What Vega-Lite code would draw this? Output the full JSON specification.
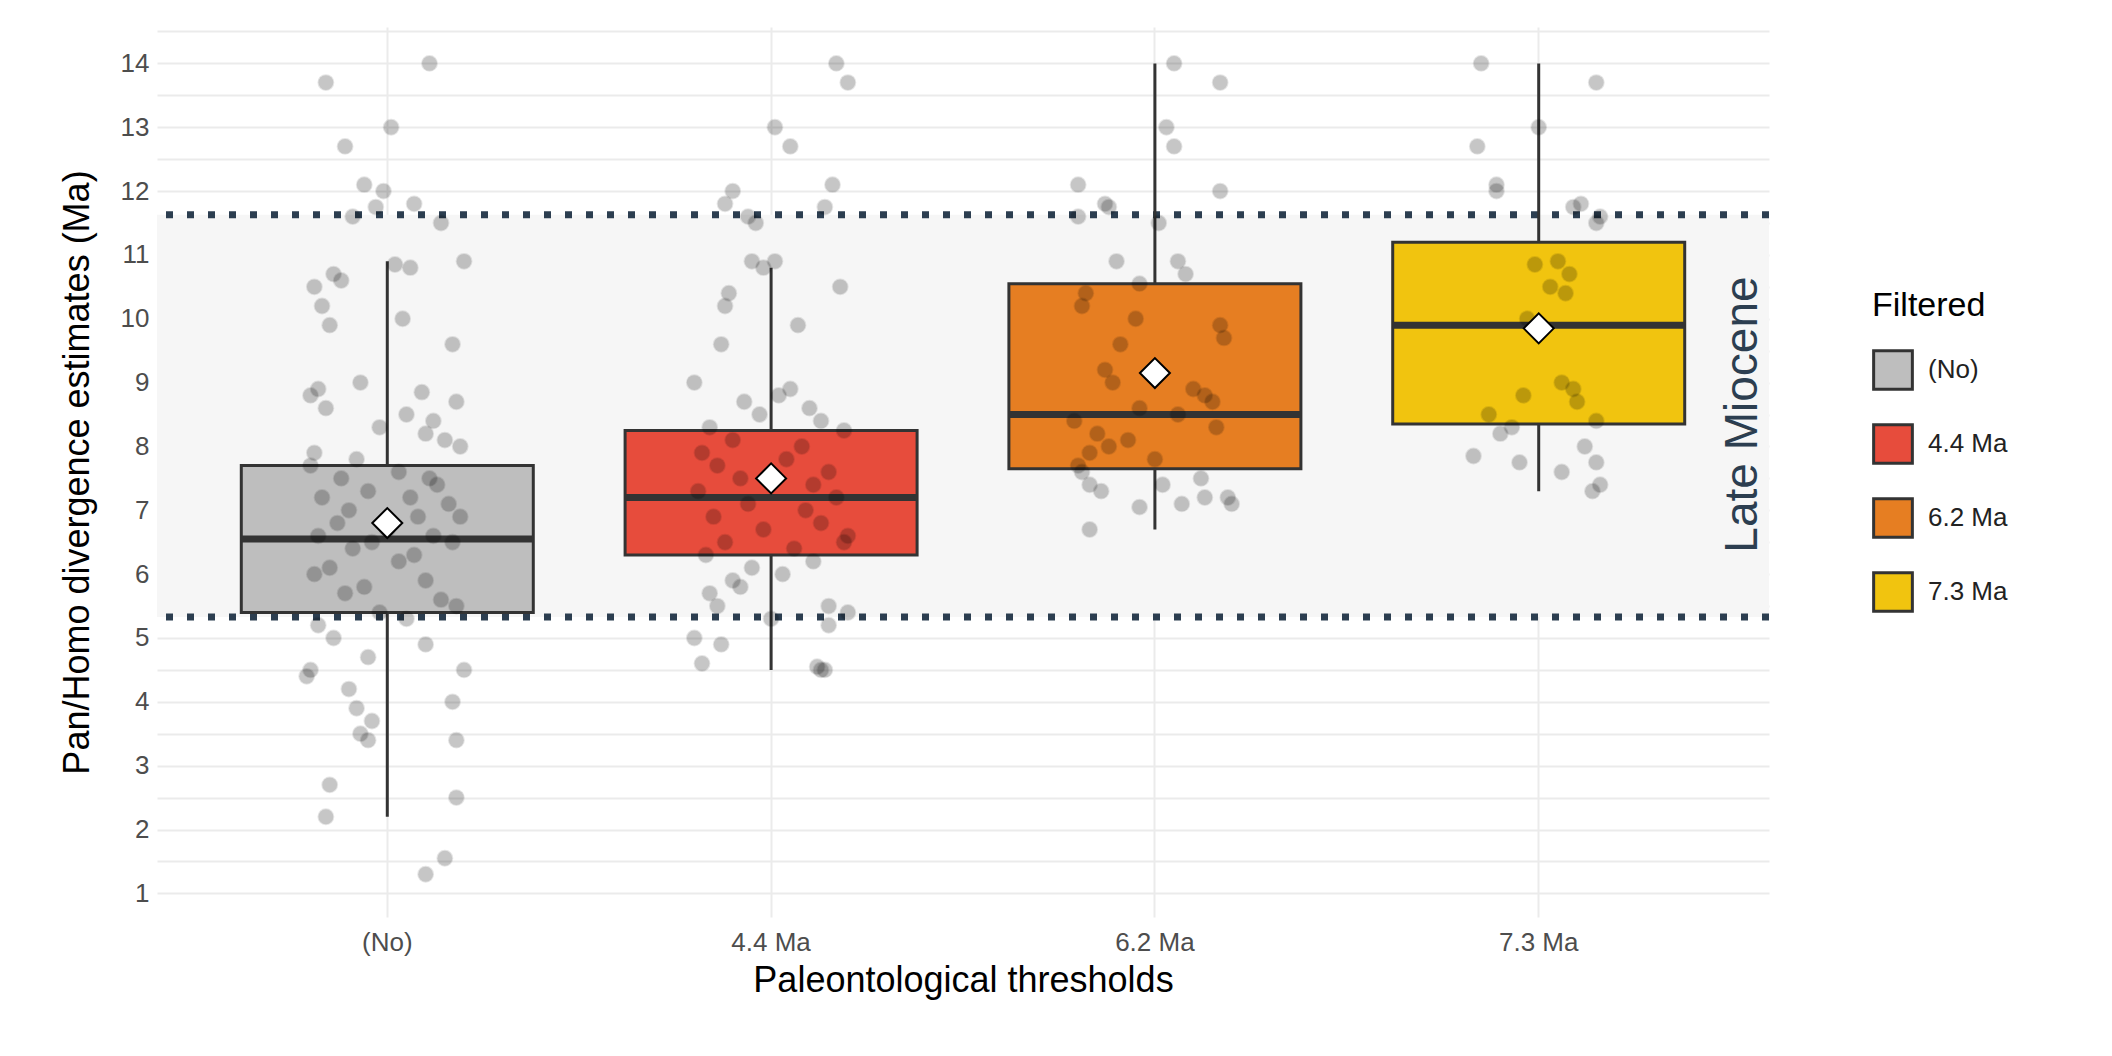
{
  "$schema": "https://vega.github.io/schema/vega-lite/v6.json",
  "width": 1612,
  "height": 890,
  "autosize": "none",
  "padding": {"left": 157, "top": 27, "right": 343, "bottom": 139},
  "background": "white",
  "config": {
    "view": {"stroke": null},
    "font": "Liberation Sans",
    "axis": {"labelFont": "Liberation Sans", "titleFont": "Liberation Sans", "labelColor": "#4d4d4d", "titleColor": "#000", "labelFontSize": 26, "titleFontSize": 36, "titleFontWeight": "normal", "domain": false, "ticks": false, "gridColor": "#ebebeb", "gridWidth": 2}
  },
  "datasets": {
    "pts": [
      {"g":"(No)","v":13.7,"j":-0.16},{"g":"(No)","v":14,"j":0.11},{"g":"(No)","v":13,"j":0.01},{"g":"(No)","v":12.7,"j":-0.11},{"g":"(No)","v":12.1,"j":-0.06},{"g":"(No)","v":12,"j":-0.01},{"g":"(No)","v":11.8,"j":0.07},{"g":"(No)","v":11.75,"j":-0.03},{"g":"(No)","v":11.6,"j":-0.09},{"g":"(No)","v":11.5,"j":0.14},
      {"g":"(No)","v":10.9,"j":0.2},{"g":"(No)","v":10.85,"j":0.02},{"g":"(No)","v":10.8,"j":0.06},{"g":"(No)","v":10.7,"j":-0.14},{"g":"(No)","v":10.6,"j":-0.12},{"g":"(No)","v":10.5,"j":-0.19},{"g":"(No)","v":10.2,"j":-0.17},{"g":"(No)","v":10,"j":0.04},{"g":"(No)","v":9.9,"j":-0.15},{"g":"(No)","v":9.6,"j":0.17},
      {"g":"(No)","v":9,"j":-0.07},{"g":"(No)","v":8.9,"j":-0.18},{"g":"(No)","v":8.85,"j":0.09},{"g":"(No)","v":8.8,"j":-0.2},{"g":"(No)","v":8.7,"j":0.18},{"g":"(No)","v":8.6,"j":-0.16},{"g":"(No)","v":8.5,"j":0.05},{"g":"(No)","v":8.4,"j":0.12},{"g":"(No)","v":8.3,"j":-0.02},{"g":"(No)","v":8.2,"j":0.1},
      {"g":"(No)","v":8.1,"j":0.15},{"g":"(No)","v":8,"j":0.19},{"g":"(No)","v":7.9,"j":-0.19},{"g":"(No)","v":7.8,"j":-0.08},{"g":"(No)","v":7.7,"j":-0.2},{"g":"(No)","v":7.6,"j":0.03},{"g":"(No)","v":7.5,"j":0.11},{"g":"(No)","v":7.5,"j":-0.12},{"g":"(No)","v":7.4,"j":0.13},{"g":"(No)","v":7.3,"j":-0.05},
      {"g":"(No)","v":7.2,"j":0.06},{"g":"(No)","v":7.2,"j":-0.17},{"g":"(No)","v":7.1,"j":0.16},{"g":"(No)","v":7,"j":-0.1},{"g":"(No)","v":6.9,"j":0.08},{"g":"(No)","v":6.9,"j":0.19},{"g":"(No)","v":6.8,"j":-0.13},{"g":"(No)","v":6.7,"j":0.0},{"g":"(No)","v":6.6,"j":-0.18},{"g":"(No)","v":6.6,"j":0.12},
      {"g":"(No)","v":6.5,"j":-0.04},{"g":"(No)","v":6.5,"j":0.17},{"g":"(No)","v":6.4,"j":-0.09},{"g":"(No)","v":6.3,"j":0.07},{"g":"(No)","v":6.2,"j":0.03},{"g":"(No)","v":6.1,"j":-0.15},{"g":"(No)","v":6,"j":-0.19},{"g":"(No)","v":5.9,"j":0.1},{"g":"(No)","v":5.8,"j":-0.06},{"g":"(No)","v":5.7,"j":-0.11},
      {"g":"(No)","v":5.6,"j":0.14},{"g":"(No)","v":5.5,"j":0.18},{"g":"(No)","v":5.4,"j":-0.02},{"g":"(No)","v":5.3,"j":0.05},{"g":"(No)","v":5.2,"j":-0.18},{"g":"(No)","v":5,"j":-0.14},{"g":"(No)","v":4.9,"j":0.1},{"g":"(No)","v":4.7,"j":-0.05},{"g":"(No)","v":4.5,"j":-0.2},{"g":"(No)","v":4.5,"j":0.2},
      {"g":"(No)","v":4.4,"j":-0.21},{"g":"(No)","v":4.2,"j":-0.1},{"g":"(No)","v":4,"j":0.17},{"g":"(No)","v":3.9,"j":-0.08},{"g":"(No)","v":3.7,"j":-0.04},{"g":"(No)","v":3.5,"j":-0.07},{"g":"(No)","v":3.4,"j":-0.05},{"g":"(No)","v":3.4,"j":0.18},{"g":"(No)","v":2.7,"j":-0.15},{"g":"(No)","v":2.5,"j":0.18},
      {"g":"(No)","v":2.2,"j":-0.16},{"g":"(No)","v":1.55,"j":0.15},{"g":"(No)","v":1.3,"j":0.1},
      {"g":"4.4 Ma","v":14,"j":0.17},{"g":"4.4 Ma","v":13.7,"j":0.2},{"g":"4.4 Ma","v":13,"j":0.01},{"g":"4.4 Ma","v":12.7,"j":0.05},{"g":"4.4 Ma","v":12.1,"j":0.16},{"g":"4.4 Ma","v":12,"j":-0.1},{"g":"4.4 Ma","v":11.8,"j":-0.12},{"g":"4.4 Ma","v":11.75,"j":0.14},{"g":"4.4 Ma","v":11.6,"j":-0.06},{"g":"4.4 Ma","v":11.5,"j":-0.04},
      {"g":"4.4 Ma","v":10.9,"j":-0.05},{"g":"4.4 Ma","v":10.9,"j":0.01},{"g":"4.4 Ma","v":10.8,"j":-0.02},{"g":"4.4 Ma","v":10.5,"j":0.18},{"g":"4.4 Ma","v":10.4,"j":-0.11},{"g":"4.4 Ma","v":10.2,"j":-0.12},{"g":"4.4 Ma","v":9.9,"j":0.07},{"g":"4.4 Ma","v":9.6,"j":-0.13},{"g":"4.4 Ma","v":9,"j":-0.2},{"g":"4.4 Ma","v":8.9,"j":0.05},
      {"g":"4.4 Ma","v":8.8,"j":0.02},{"g":"4.4 Ma","v":8.7,"j":-0.07},{"g":"4.4 Ma","v":8.6,"j":0.1},{"g":"4.4 Ma","v":8.5,"j":-0.03},{"g":"4.4 Ma","v":8.4,"j":0.13},{"g":"4.4 Ma","v":8.3,"j":-0.16},{"g":"4.4 Ma","v":8.25,"j":0.19},{"g":"4.4 Ma","v":8.1,"j":-0.1},{"g":"4.4 Ma","v":8,"j":0.08},{"g":"4.4 Ma","v":7.9,"j":-0.18},
      {"g":"4.4 Ma","v":7.8,"j":0.04},{"g":"4.4 Ma","v":7.7,"j":-0.14},{"g":"4.4 Ma","v":7.6,"j":0.15},{"g":"4.4 Ma","v":7.5,"j":-0.08},{"g":"4.4 Ma","v":7.4,"j":0.11},{"g":"4.4 Ma","v":7.3,"j":-0.19},{"g":"4.4 Ma","v":7.2,"j":0.17},{"g":"4.4 Ma","v":7.1,"j":-0.06},{"g":"4.4 Ma","v":7,"j":0.09},{"g":"4.4 Ma","v":6.9,"j":-0.15},
      {"g":"4.4 Ma","v":6.8,"j":0.13},{"g":"4.4 Ma","v":6.7,"j":-0.02},{"g":"4.4 Ma","v":6.6,"j":0.2},{"g":"4.4 Ma","v":6.5,"j":-0.12},{"g":"4.4 Ma","v":6.5,"j":0.19},{"g":"4.4 Ma","v":6.4,"j":0.06},{"g":"4.4 Ma","v":6.3,"j":-0.17},{"g":"4.4 Ma","v":6.2,"j":0.11},{"g":"4.4 Ma","v":6.1,"j":-0.05},{"g":"4.4 Ma","v":6,"j":0.03},
      {"g":"4.4 Ma","v":5.9,"j":-0.1},{"g":"4.4 Ma","v":5.8,"j":-0.08},{"g":"4.4 Ma","v":5.7,"j":-0.16},{"g":"4.4 Ma","v":5.5,"j":-0.14},{"g":"4.4 Ma","v":5.5,"j":0.15},{"g":"4.4 Ma","v":5.4,"j":0.2},{"g":"4.4 Ma","v":5.3,"j":0.0},{"g":"4.4 Ma","v":5.2,"j":0.15},{"g":"4.4 Ma","v":5,"j":-0.2},{"g":"4.4 Ma","v":4.9,"j":-0.13},
      {"g":"4.4 Ma","v":4.6,"j":-0.18},{"g":"4.4 Ma","v":4.55,"j":0.12},{"g":"4.4 Ma","v":4.5,"j":0.13},{"g":"4.4 Ma","v":4.5,"j":0.14},
      {"g":"6.2 Ma","v":14,"j":0.05},{"g":"6.2 Ma","v":13.7,"j":0.17},{"g":"6.2 Ma","v":13,"j":0.03},{"g":"6.2 Ma","v":12.7,"j":0.05},{"g":"6.2 Ma","v":12.1,"j":-0.2},{"g":"6.2 Ma","v":12,"j":0.17},{"g":"6.2 Ma","v":11.8,"j":-0.13},{"g":"6.2 Ma","v":11.75,"j":-0.12},{"g":"6.2 Ma","v":11.6,"j":-0.2},{"g":"6.2 Ma","v":11.5,"j":0.01},
      {"g":"6.2 Ma","v":10.9,"j":-0.1},{"g":"6.2 Ma","v":10.9,"j":0.06},{"g":"6.2 Ma","v":10.7,"j":0.08},{"g":"6.2 Ma","v":10.55,"j":-0.04},{"g":"6.2 Ma","v":10.4,"j":-0.18},{"g":"6.2 Ma","v":10.2,"j":-0.19},{"g":"6.2 Ma","v":10,"j":-0.05},{"g":"6.2 Ma","v":9.9,"j":0.17},{"g":"6.2 Ma","v":9.7,"j":0.18},{"g":"6.2 Ma","v":9.6,"j":-0.09},
      {"g":"6.2 Ma","v":9.2,"j":-0.13},{"g":"6.2 Ma","v":9,"j":-0.11},{"g":"6.2 Ma","v":8.9,"j":0.1},{"g":"6.2 Ma","v":8.8,"j":0.13},{"g":"6.2 Ma","v":8.7,"j":0.15},{"g":"6.2 Ma","v":8.6,"j":-0.04},{"g":"6.2 Ma","v":8.5,"j":0.06},{"g":"6.2 Ma","v":8.4,"j":-0.21},{"g":"6.2 Ma","v":8.3,"j":0.16},{"g":"6.2 Ma","v":8.2,"j":-0.15},
      {"g":"6.2 Ma","v":8.1,"j":-0.07},{"g":"6.2 Ma","v":8,"j":-0.12},{"g":"6.2 Ma","v":7.9,"j":-0.17},{"g":"6.2 Ma","v":7.8,"j":0.0},{"g":"6.2 Ma","v":7.7,"j":-0.2},{"g":"6.2 Ma","v":7.6,"j":-0.19},{"g":"6.2 Ma","v":7.5,"j":0.12},{"g":"6.2 Ma","v":7.4,"j":-0.17},{"g":"6.2 Ma","v":7.4,"j":0.02},{"g":"6.2 Ma","v":7.3,"j":-0.14},
      {"g":"6.2 Ma","v":7.2,"j":0.13},{"g":"6.2 Ma","v":7.2,"j":0.19},{"g":"6.2 Ma","v":7.1,"j":0.07},{"g":"6.2 Ma","v":7.1,"j":0.2},{"g":"6.2 Ma","v":7.05,"j":-0.04},{"g":"6.2 Ma","v":6.7,"j":-0.17},
      {"g":"7.3 Ma","v":14,"j":-0.15},{"g":"7.3 Ma","v":13.7,"j":0.15},{"g":"7.3 Ma","v":13,"j":0.0},{"g":"7.3 Ma","v":12.7,"j":-0.16},{"g":"7.3 Ma","v":12.1,"j":-0.11},{"g":"7.3 Ma","v":12,"j":-0.11},{"g":"7.3 Ma","v":11.8,"j":0.11},{"g":"7.3 Ma","v":11.75,"j":0.09},{"g":"7.3 Ma","v":11.6,"j":0.16},{"g":"7.3 Ma","v":11.5,"j":0.15},
      {"g":"7.3 Ma","v":10.9,"j":0.05},{"g":"7.3 Ma","v":10.85,"j":-0.01},{"g":"7.3 Ma","v":10.7,"j":0.08},{"g":"7.3 Ma","v":10.5,"j":0.03},{"g":"7.3 Ma","v":10.4,"j":0.07},{"g":"7.3 Ma","v":10,"j":-0.03},{"g":"7.3 Ma","v":9,"j":0.06},{"g":"7.3 Ma","v":8.9,"j":0.09},{"g":"7.3 Ma","v":8.8,"j":-0.04},{"g":"7.3 Ma","v":8.7,"j":0.1},
      {"g":"7.3 Ma","v":8.5,"j":-0.13},{"g":"7.3 Ma","v":8.4,"j":0.15},{"g":"7.3 Ma","v":8.3,"j":-0.07},{"g":"7.3 Ma","v":8.2,"j":-0.1},{"g":"7.3 Ma","v":8,"j":0.12},{"g":"7.3 Ma","v":7.85,"j":-0.17},{"g":"7.3 Ma","v":7.75,"j":0.15},{"g":"7.3 Ma","v":7.75,"j":-0.05},{"g":"7.3 Ma","v":7.6,"j":0.06},{"g":"7.3 Ma","v":7.4,"j":0.16},
      {"g":"7.3 Ma","v":7.3,"j":0.14}
    ],
    "box": [
      {"g":"(No)","lo":2.2,"q1":5.4,"med":6.55,"q3":7.7,"hi":10.9,"mean":6.8},
      {"g":"4.4 Ma","lo":4.5,"q1":6.3,"med":7.2,"q3":8.25,"hi":10.8,"mean":7.5},
      {"g":"6.2 Ma","lo":6.7,"q1":7.65,"med":8.5,"q3":10.55,"hi":14,"mean":9.15},
      {"g":"7.3 Ma","lo":7.3,"q1":8.35,"med":9.9,"q3":11.2,"hi":14,"mean":9.85}
    ],
    "band": [{"lo":5.33,"hi":11.63}]
  },
  "encoding": {
    "x": {"field": "g", "type": "nominal", "sort": ["(No)","4.4 Ma","6.2 Ma","7.3 Ma"],
      "scale": {"domain": ["(No)","4.4 Ma","6.2 Ma","7.3 Ma"], "paddingInner": 0, "paddingOuter": 0.1},
      "axis": {"title": "Paleontological thresholds", "labelAngle": 0, "grid": true, "bandPosition": 0.5, "labelPadding": 12, "titlePadding": 8}},
    "y": {"type": "quantitative", "scale": {"domain": [0.63, 14.57], "nice": false, "zero": false},
      "axis": {"title": "Pan/Homo divergence estimates (Ma)", "values": [1,1.5,2,2.5,3,3.5,4,4.5,5,5.5,6,6.5,7,7.5,8,8.5,9,9.5,10,10.5,11,11.5,12,12.5,13,13.5,14,14.5],
        "labelExpr": "datum.value % 1 == 0 ? format(datum.value, 'd') : ''", "labelPadding": 8, "titlePadding": 24}}
  },
  "layer": [
    {"data": {"name": "band"}, "mark": {"type": "rect", "color": "#f6f6f6"},
     "encoding": {"x": null, "y": {"field": "lo", "type": "quantitative"}, "y2": {"field": "hi"}}},
    {"data": {"name": "band"}, "mark": {"type": "rule", "color": "#2c3e50", "strokeWidth": 7, "strokeDash": [7, 14]},
     "encoding": {"x": null, "y": {"field": "lo", "type": "quantitative"}}},
    {"data": {"name": "band"}, "mark": {"type": "rule", "color": "#2c3e50", "strokeWidth": 7, "strokeDash": [7, 14]},
     "encoding": {"x": null, "y": {"field": "hi", "type": "quantitative"}}},
    {"data": {"name": "box"}, "mark": {"type": "rule", "color": "#333333", "strokeWidth": 3},
     "encoding": {"y": {"field": "lo", "type": "quantitative"}, "y2": {"field": "hi"}}},
    {"data": {"name": "box"}, "mark": {"type": "bar", "width": 292, "stroke": "#333333", "strokeWidth": 3, "opacity": 1},
     "encoding": {"y": {"field": "q1", "type": "quantitative"}, "y2": {"field": "q3"},
       "fill": {"field": "g", "type": "nominal", "title": "Filtered",
         "scale": {"domain": ["(No)","4.4 Ma","6.2 Ma","7.3 Ma"], "range": ["#bebebe","#e74c3c","#e67e22","#f1c40f"]},
         "legend": {"orient": "none", "legendX": 1715, "legendY": 262, "titleFontSize": 34, "titleFontWeight": "normal", "titleColor": "#000", "labelFontSize": 26, "labelColor": "#222", "symbolType": "square", "symbolSize": 1500, "symbolStrokeColor": "#333", "symbolStrokeWidth": 3, "rowPadding": 22, "titlePadding": 26, "labelOffset": 14, "labelExpr": "datum.label == '(No)' ? ' (No)' : datum.label"}}}},
    {"data": {"name": "box"}, "mark": {"type": "tick", "size": 292, "thickness": 7, "color": "#333333", "opacity": 1},
     "encoding": {"y": {"field": "med", "type": "quantitative"}}},
    {"data": {"name": "pts"}, "mark": {"type": "circle", "size": 220, "color": "#000", "opacity": 0.22, "stroke": "#000", "strokeWidth": 2, "strokeOpacity": 0.45},
     "encoding": {"xOffset": {"field": "j", "type": "quantitative", "scale": {"domain": [-0.5, 0.5]}}, "y": {"field": "v", "type": "quantitative"}}},
    {"data": {"name": "box"}, "mark": {"type": "point", "shape": "diamond", "size": 900, "filled": true, "fill": "white", "stroke": "#000", "strokeWidth": 2, "opacity": 1},
     "encoding": {"y": {"field": "mean", "type": "quantitative"}}},
    {"data": {"values": [{"t": "Late Miocene"}]}, "mark": {"type": "text", "angle": 270, "fontSize": 46, "color": "#2c3e50", "xOffset": 204, "align": "center", "baseline": "middle"},
     "encoding": {"x": {"datum": "7.3 Ma"}, "y": {"datum": 8.5}, "text": {"field": "t"}}}
  ]
}
